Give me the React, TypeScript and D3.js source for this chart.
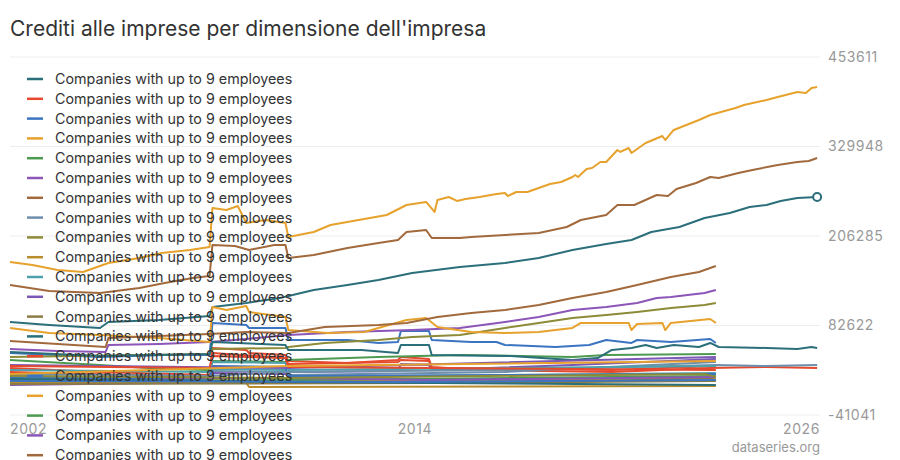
import { useEffect, useRef } from 'react'
import * as d3 from 'd3'

const title = "Crediti alle imprese per dimensione dell'impresa"
const seriesName = 'Companies with up to 9 employees'
const credit = 'dataseries.org'
const yTicks = [-41041, 82622, 206285, 329948, 453611]
const xTickLabels = ['2002', '2014', '2026']
const palette = [
  '#2b6f7b', '#e5492e', '#3b74c1', '#e6a22c', '#4d9a51', '#8c55b8', '#a26a3c',
  '#6d8fab', '#8d8b37', '#b98c2c', '#4ea0aa', '#7b58b5', '#8b7b45',
]

type Pt = [string, number]

const s00: Pt[] = [
  ['2002-01', 87500], ['2003-03', 83300], ['2004-09', 79200], ['2004-12', 87500],
  ['2006-06', 90200], ['2007-12', 95800], ['2008-01', 108200], ['2009-01', 113700],
  ['2010-01', 120600], ['2011-01', 131700], ['2012-01', 138600], ['2012-12', 145500],
  ['2013-12', 155200], ['2015-05', 163500], ['2016-09', 169000], ['2017-09', 175900],
  ['2018-09', 187000], ['2019-09', 195200], ['2020-06', 200800], ['2021-01', 211800],
  ['2021-11', 218700], ['2022-08', 231200], ['2023-05', 238100], ['2023-12', 246400],
  ['2024-06', 249100], ['2024-11', 254700], ['2025-05', 258800], ['2025-12', 260200],
]
const s01: Pt[] = [
  ['2002-01', 23900], ['2004-09', 18400], ['2007-12', 14300], ['2008-01', 51600],
  ['2009-01', 48800], ['2009-02', 44600], ['2010-03', 41900], ['2010-04', 33600],
  ['2012-01', 30800], ['2013-07', 35000], ['2013-08', 39100], ['2014-06', 36400],
  ['2014-07', 25300], ['2015-12', 21200], ['2019-11', 18400], ['2022-10', 23900],
  ['2024-06', 25300], ['2025-12', 23900],
]
const s02: Pt[] = [
  ['2002-01', 44600], ['2004-09', 39100], ['2006-08', 41900], ['2007-12', 41900],
  ['2008-01', 86100], ['2009-01', 83300], ['2009-02', 79200], ['2010-03', 79200],
  ['2010-04', 62600], ['2012-01', 62600], ['2012-12', 58500], ['2013-07', 59800],
  ['2013-08', 75000], ['2014-06', 75000], ['2014-07', 62600], ['2015-09', 59800],
  ['2016-06', 59800], ['2016-09', 55700], ['2018-03', 52900], ['2019-03', 55700],
  ['2019-09', 62600], ['2020-06', 58500], ['2020-08', 62600], ['2021-08', 59800],
  ['2022-10', 64000], ['2022-12', 58500],
]
const s03: Pt[] = [
  ['2002-01', 170400], ['2002-09', 166200], ['2003-06', 159300], ['2004-03', 156500],
  ['2004-12', 169000], ['2005-11', 175900], ['2006-07', 182800], ['2007-05', 187000],
  ['2007-12', 191100], ['2008-01', 245000], ['2008-06', 242200], ['2008-10', 247700],
  ['2009-01', 224300], ['2009-08', 228400], ['2010-03', 224300], ['2010-04', 204900],
  ['2011-01', 211800], ['2011-07', 221500], ['2012-05', 228400], ['2013-03', 235300],
  ['2013-10', 249100], ['2014-05', 253300], ['2014-08', 239500], ['2014-09', 256000],
  ['2015-01', 260200], ['2015-04', 254700], ['2015-07', 257400], ['2015-12', 260200],
  ['2016-06', 264300], ['2016-09', 265700], ['2016-10', 261500], ['2017-01', 267100],
  ['2017-05', 267100], ['2017-09', 272600], ['2018-01', 278100], ['2018-05', 280900],
  ['2018-09', 287800], ['2018-10', 290600], ['2018-11', 287800], ['2019-02', 298900],
  ['2019-04', 300200], ['2019-07', 308500], ['2019-09', 308500], ['2019-12', 320900],
  ['2020-01', 325100], ['2020-02', 322400], ['2020-05', 327900], ['2020-06', 321000],
  ['2020-11', 334800], ['2021-05', 344500], ['2021-06', 338900], ['2021-09', 352800],
  ['2022-06', 366600], ['2022-10', 373500], ['2023-07', 383100], ['2023-10', 387300],
  ['2024-06', 394200], ['2024-10', 398300], ['2025-05', 405300], ['2025-08', 403900],
  ['2025-10', 410800], ['2025-12', 412200],
]
const s04: Pt[] = [
  ['2002-01', 35000], ['2004-09', 28100], ['2006-08', 22600], ['2007-12', 21200],
  ['2008-01', 33600], ['2010-03', 32200], ['2010-04', 35000], ['2012-12', 39100],
  ['2015-05', 41900], ['2018-09', 39100], ['2019-09', 41900], ['2022-12', 43300],
]
const s05: Pt[] = [
  ['2002-01', 50200], ['2003-06', 47400], ['2004-11', 46000], ['2004-12', 55700],
  ['2006-06', 57100], ['2007-12', 59800], ['2009-01', 64000], ['2010-04', 69500],
  ['2012-01', 73700], ['2013-12', 76400], ['2015-05', 79200], ['2016-09', 87500],
  ['2017-09', 94400], ['2018-09', 104000], ['2019-09', 108200], ['2020-08', 113700],
  ['2021-03', 120600], ['2021-08', 122000], ['2022-08', 127500], ['2022-12', 131700],
]
const s06: Pt[] = [
  ['2002-01', 138600], ['2003-03', 130300], ['2004-09', 127500], ['2005-11', 134400],
  ['2006-08', 141300], ['2007-06', 148300], ['2007-12', 151000], ['2008-01', 193900],
  ['2008-09', 192500], ['2009-02', 187000], ['2009-11', 193900], ['2010-03', 193900],
  ['2010-04', 175900], ['2011-01', 180000], ['2012-01', 189700], ['2012-12', 196600],
  ['2013-07', 200800], ['2013-10', 211800], ['2014-05', 214600], ['2014-07', 203500],
  ['2015-05', 203500], ['2015-09', 204900], ['2016-09', 207700], ['2017-09', 210400],
  ['2018-07', 218700], ['2018-12', 228400], ['2019-09', 235300], ['2020-01', 249100],
  ['2020-07', 249100], ['2021-03', 262900], ['2021-07', 261500], ['2021-10', 271200],
  ['2022-05', 279500], ['2022-10', 287800], ['2023-01', 286400], ['2023-08', 293300],
  ['2024-01', 297500], ['2024-10', 304400], ['2025-05', 308500], ['2025-09', 309900],
  ['2025-12', 314100],
]
const s07: Pt[] = [
  ['2002-01', 12900], ['2007-12', 10100], ['2008-01', 19800], ['2010-03', 18400],
  ['2010-04', 14300], ['2016-09', 18400], ['2022-12', 32200],
]
const s08: Pt[] = [
  ['2002-01', 39100], ['2007-12', 43300], ['2008-01', 50200], ['2010-03', 51600],
  ['2010-04', 52900], ['2011-05', 58500], ['2012-12', 62600], ['2013-12', 66800],
  ['2015-05', 69500], ['2016-09', 79200], ['2017-09', 86100], ['2018-09', 93000],
  ['2019-09', 97100], ['2020-08', 101300], ['2021-08', 106800], ['2022-08', 110900],
  ['2022-12', 113700],
]
const s09: Pt[] = [
  ['2002-01', 8700], ['2007-12', 7400], ['2010-04', 6000], ['2016-09', 7400], ['2022-12', 10100],
]
const s10: Pt[] = [
  ['2002-01', 11500], ['2007-12', 10100], ['2008-01', 22600], ['2010-03', 21200],
  ['2010-04', 11500], ['2022-12', 17000],
]
const s11: Pt[] = [
  ['2002-01', 6000], ['2007-12', 7400], ['2008-01', 17000], ['2010-03', 15600],
  ['2010-04', 18400], ['2013-07', 19800], ['2013-08', 29500], ['2014-06', 28100],
  ['2014-07', 21200], ['2018-09', 28100], ['2022-12', 36400],
]
const s12: Pt[] = [
  ['2002-01', 7400], ['2007-12', 4600], ['2010-04', 3200], ['2018-09', 4600],
  ['2022-10', 10100], ['2022-12', 6000],
]
const s13: Pt[] = [
  ['2002-01', 46000], ['2004-09', 40500], ['2007-12', 43300], ['2008-01', 59800],
  ['2010-03', 55700], ['2010-04', 48800], ['2012-06', 48800], ['2013-07', 44600],
  ['2013-08', 55700], ['2014-06', 55700], ['2014-07', 41900], ['2016-11', 40500],
  ['2018-09', 35000], ['2019-06', 37700], ['2019-11', 48800], ['2020-06', 51600],
  ['2020-11', 55700], ['2021-03', 51600], ['2021-09', 55700], ['2022-06', 52900],
  ['2022-10', 58500], ['2023-01', 52900], ['2024-06', 51600], ['2025-05', 50200],
  ['2025-10', 52900], ['2025-12', 51600],
]
const s14: Pt[] = [
  ['2002-01', 18400], ['2007-12', 11500], ['2008-01', 44600], ['2010-03', 37700],
  ['2010-04', 29500], ['2013-07', 32200], ['2013-08', 35000], ['2014-06', 33600],
  ['2014-07', 23900], ['2019-11', 21200], ['2022-12', 26700],
]
const s15: Pt[] = [
  ['2002-01', 10100], ['2007-12', 8700], ['2008-01', 26700], ['2010-03', 25300],
  ['2010-04', 12900], ['2022-12', 15600],
]
const s16: Pt[] = [
  ['2002-01', 79200], ['2003-03', 72300], ['2004-09', 69500], ['2006-06', 65400],
  ['2007-12', 59800], ['2008-01', 108200], ['2008-06', 104000], ['2009-01', 109600],
  ['2009-02', 101300], ['2010-03', 94400], ['2010-04', 76400], ['2011-06', 72300],
  ['2012-07', 73700], ['2013-10', 90200], ['2014-05', 93000], ['2014-09', 80600],
  ['2015-09', 73700], ['2016-09', 72300], ['2017-09', 73700], ['2018-09', 79200],
  ['2018-12', 86100], ['2020-05', 86100], ['2020-06', 76400], ['2020-08', 84700],
  ['2021-05', 86100], ['2021-06', 76400], ['2021-08', 86100], ['2022-10', 91600],
  ['2022-12', 86100],
]
const s17: Pt[] = [['2002-01', 4600], ['2010-04', 7400], ['2022-12', 12900]]
const s18: Pt[] = [
  ['2002-01', 500], ['2006-07', 3200], ['2006-08', 10100], ['2010-04', 10100],
  ['2014-07', 7400], ['2022-12', 11500],
]
const s19: Pt[] = [
  ['2002-01', 61200], ['2003-06', 57100], ['2004-11', 52900], ['2004-12', 65400],
  ['2006-06', 68100], ['2007-12', 70900], ['2009-01', 73700], ['2010-04', 72300],
  ['2011-05', 80600], ['2012-12', 83300], ['2013-10', 86100], ['2014-09', 94400],
  ['2015-09', 99900], ['2016-09', 104000], ['2017-09', 110900], ['2018-09', 120600],
  ['2019-09', 128900], ['2020-08', 138600], ['2021-08', 149600], ['2022-06', 156500],
  ['2022-12', 164800],
]
const s20: Pt[] = [
  ['2002-01', 15600], ['2007-12', 12900], ['2010-04', 18400], ['2016-09', 21200],
  ['2022-12', 28100], ['2024-06', 26700], ['2025-12', 28100],
]
const s21: Pt[] = [['2002-01', 12900], ['2010-04', 10100], ['2022-08', 15600], ['2022-12', 11500]]
const s22: Pt[] = [['2002-01', 3200], ['2009-01', 3200], ['2009-02', -2300], ['2022-12', -900]]
const s23: Pt[] = [
  ['2002-01', 21200], ['2007-12', 18400], ['2008-01', 32200], ['2010-03', 30800],
  ['2010-04', 21200], ['2022-12', 26700],
]
const s24: Pt[] = [['2002-01', 28100], ['2010-04', 23900], ['2022-12', 39100]]
const s25: Pt[] = [['2002-01', 1800], ['2014-07', 3200], ['2022-12', 6000]]
const s26: Pt[] = [['2002-01', 8700], ['2010-04', 4600], ['2022-12', 500]]
const s27: Pt[] = [
  ['2002-01', 26700], ['2007-12', 23900], ['2008-01', 40500], ['2010-03', 37700],
  ['2010-04', 25300], ['2022-12', 21200],
]
const s28: Pt[] = [['2002-01', 6000], ['2013-07', 4600], ['2022-12', 7400]]
const s29: Pt[] = [['2002-01', 15600], ['2010-04', 26700], ['2022-12', 33600]]

const allSeries = [
  s00, s01, s02, s03, s04, s05, s06, s07, s08, s09, s10, s11, s12, s13, s14,
  s15, s16, s17, s18, s19, s20, s21, s22, s23, s24, s25, s26, s27, s28, s29,
]

const W = 900
const H = 460
const font = 'Inter, "Noto Sans", sans-serif'

export default function App() {
  const svgRef = useRef<SVGSVGElement>(null)

  useEffect(() => {
    if (!svgRef.current) return
    const svg = d3.select(svgRef.current)
    svg.selectAll('*').remove()

    const parse = d3.utcParse('%Y-%m')
    const x = d3.scaleUtc()
      .domain([new Date(Date.UTC(2002, 0, 1)), new Date(Date.UTC(2026, 0, 1))])
      .range([10, 820])
    const y = d3.scaleLinear()
      .domain([yTicks[0], yTicks[yTicks.length - 1]])
      .range([415, 57])

    svg.append('text')
      .attr('x', 10).attr('y', 36)
      .attr('font-size', 21).attr('fill', '#333')
      .text(title)

    // grid + right labels
    svg.append('g').selectAll('line')
      .data(yTicks)
      .enter().append('line')
      .attr('x1', 10).attr('x2', 820)
      .attr('y1', d => y(d)).attr('y2', d => y(d))
      .attr('stroke', '#eeeeee')

    svg.append('g').selectAll('text')
      .data(yTicks)
      .enter().append('text')
      .attr('x', 828).attr('y', d => y(d))
      .attr('dy', '0.35em')
      .attr('font-size', 14).attr('fill', '#999')
      .attr('letter-spacing', 0.6)
      .text(d => String(d))

    const xt = [2002, 2014, 2026].map(yr => new Date(Date.UTC(yr, 0, 1)))
    const anchors = ['start', 'middle', 'end']
    svg.append('g').selectAll('text')
      .data(xt)
      .enter().append('text')
      .attr('x', d => x(d)).attr('y', 434)
      .attr('text-anchor', (_, i) => anchors[i])
      .attr('font-size', 14).attr('fill', '#999')
      .attr('letter-spacing', 0.6)
      .text((_, i) => xTickLabels[i])

    svg.append('text')
      .attr('x', 820).attr('y', 452)
      .attr('text-anchor', 'end')
      .attr('font-size', 13).attr('fill', '#999')
      .text(credit)

    const line = d3.line<Pt>()
      .x(d => x(parse(d[0]) as Date))
      .y(d => y(d[1]))

    svg.append('g').selectAll('path')
      .data(allSeries)
      .enter().append('path')
      .attr('d', d => line(d))
      .attr('fill', 'none')
      .attr('stroke', (_, i) => palette[i % palette.length])
      .attr('stroke-width', 2)
      .attr('stroke-linejoin', 'round')

    const last = s00[s00.length - 1]
    svg.append('circle')
      .attr('cx', x(parse(last[0]) as Date))
      .attr('cy', y(last[1]))
      .attr('r', 4)
      .attr('fill', '#fff')
      .attr('stroke', palette[0])
      .attr('stroke-width', 2)

    // legend runs past the bottom edge, only the rows that fit are drawn
    const rows = allSeries.slice(0, 20)
    const legend = svg.append('g')
      .selectAll('g')
      .data(rows)
      .enter().append('g')
      .attr('transform', (_, i) => `translate(0,${79 + i * 19.8})`)
    legend.append('line')
      .attr('x1', 27).attr('x2', 43)
      .attr('stroke', (_, i) => palette[i % palette.length])
      .attr('stroke-width', 2.5)
    legend.append('text')
      .attr('x', 55).attr('dy', '0.35em')
      .attr('font-size', 14.3).attr('fill', '#333')
      .text(seriesName)
  }, [])

  return (
    <div style={{ position: 'absolute', left: 0, top: 0 }}>
      <svg ref={svgRef} width={W} height={H} style={{ fontFamily: font, display: 'block' }} />
    </div>
  )
}
